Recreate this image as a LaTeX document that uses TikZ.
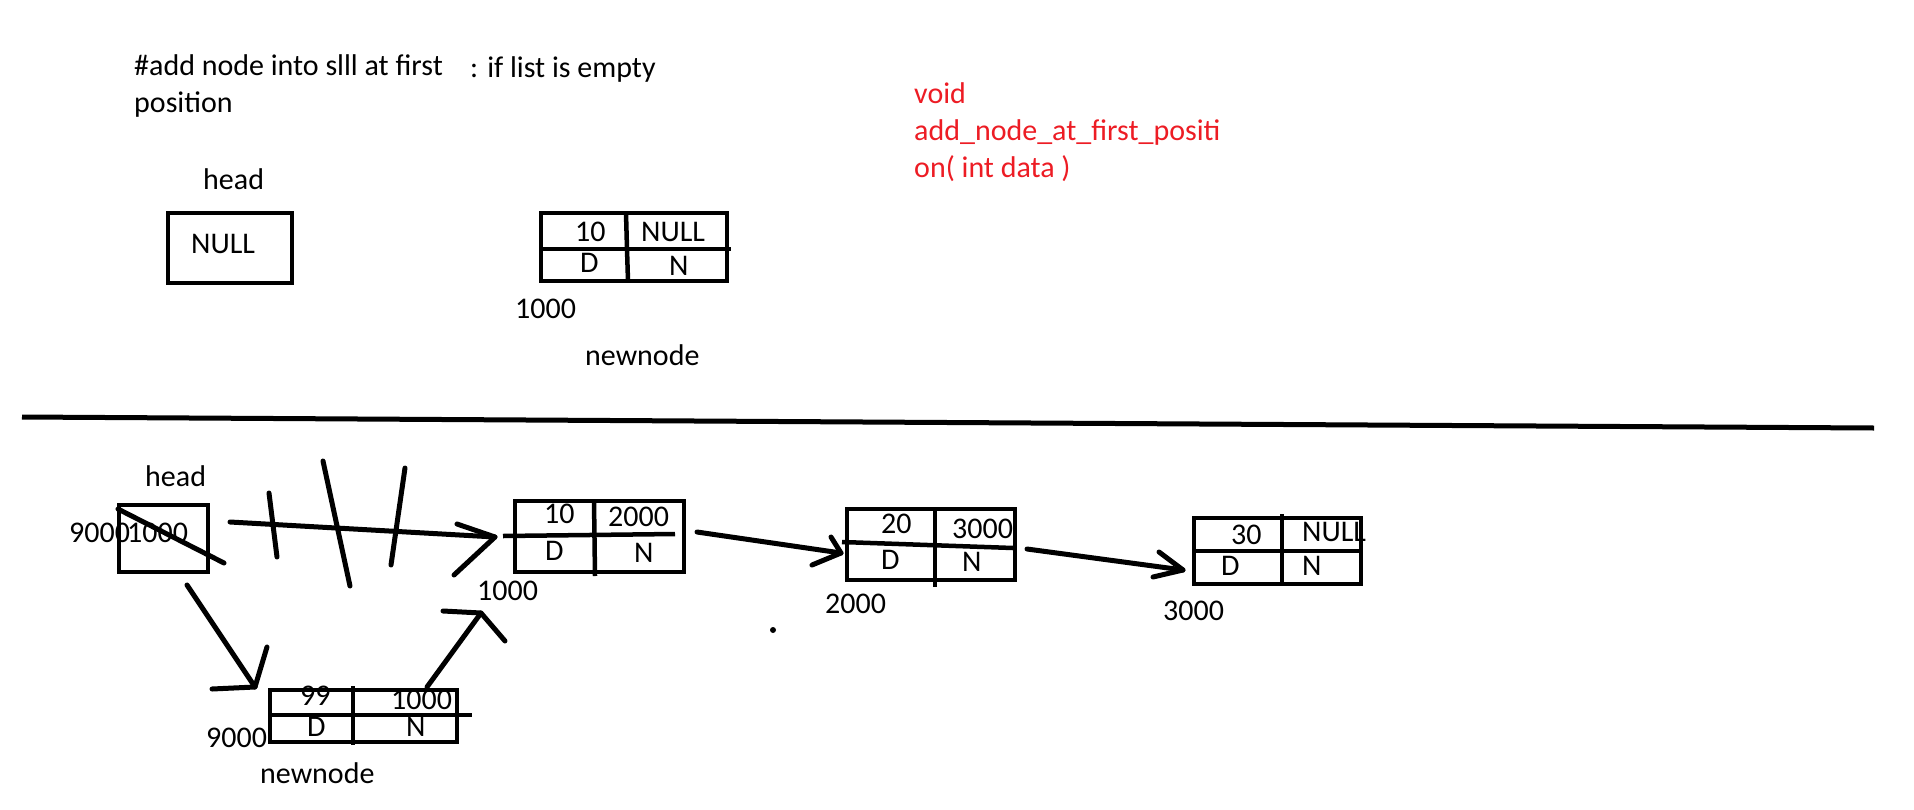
\documentclass[tikz,border=0pt]{standalone}
\usepackage{fontspec}
\setmainfont{Carlito}
\definecolor{paintred}{RGB}{237,28,36}
\begin{document}
\begin{tikzpicture}[x=1pt,y=-1pt,
  txt/.style={anchor=base west, inner sep=0pt, font=\fontsize{30}{36}\selectfont},
  redtxt/.style={txt, text=paintred},
  box/.style={line width=4.5pt},
  stroke/.style={line width=5pt, line cap=round, line join=round}]
\useasboundingbox (0,0) rectangle (1914,809);
\fill[white] (0,0) rectangle (1914,809);

% ---------- top part ----------
\node[txt] (t1) at (134,75) {\#add node into slll at first};
\node[txt] (t2) at (470,77) {: if list is empty};
\node[txt] (t3) at (134,112) {position};
\node[txt] (thead) at (203,189) {head};
\draw[box] (168,213) rectangle (292,283);
\node[txt] (tnull) at (191,253) {NULL};

\draw[box] (541,213) rectangle (727,281);
\draw[box] (541,249) -- (731,249);
\draw[box] (626,213) -- (627,249) -- (628,281);
\node[txt] (tn10) at (575,241) {10};
\node[txt] (tnN) at (641,241) {NULL};
\node[txt] (tnD) at (580,272) {D};
\node[txt] (tnNN) at (669,275) {N};
\node[txt] (tn1000) at (515,318) {1000};
\node[txt] (tnew) at (585,365) {newnode};

\node[redtxt] (r1) at (914,103) {void};
\node[redtxt] (r2) at (914,140) {add\_node\_at\_first\_positi};
\node[redtxt] (r3) at (914,177) {on( int data )};

% divider
\coordinate (dl) at (22,417);
\coordinate (dr) at (1874,428);
\draw[line width=5pt] (dl) -- (dr);

% ---------- bottom part ----------
\node[txt] (bhead) at (145,486) {head};
\node[txt] (b9000) at (69,542) {9000};
\node[txt] (b1000) at (127,542) {1000};
\draw[box] (119,505) rectangle (208,572);
\coordinate (s1) at (118,509); \coordinate (s2) at (224,563);
\draw[stroke] (s1) -- (s2);

% node 1000
\draw[box] (515,501) rectangle (684,572);
\draw[box] (503,536) -- (675,534);
\draw[box] (594,501) -- (595,576);
\node[txt] (a10) at (544,523) {10};
\node[txt] (a2000) at (608,526) {2000};
\node[txt] (aD) at (545,560) {D};
\node[txt] (aN) at (634,562) {N};
\node[txt] (aaddr) at (477,600) {1000};

% node 2000
\draw[box] (847,509) rectangle (1015,580);
\draw[box] (842,542) -- (1013,548);
\draw[box] (935,509) -- (935,587);
\node[txt] (b20) at (881,533) {20};
\node[txt] (b3000) at (952,538) {3000};
\node[txt] (bD) at (881,569) {D};
\node[txt] (bN) at (962,571) {N};
\node[txt] (baddr) at (825,613) {2000};

% node 3000
\draw[box] (1194,518) rectangle (1361,584);
\draw[box] (1194,551) -- (1361,551);
\draw[box] (1282,514) -- (1282,584);
\node[txt] (c30) at (1231,544) {30};
\node[txt] (cnull) at (1302,541) {NULL};
\node[txt] (cD) at (1221,575) {D};
\node[txt] (cN) at (1302,575) {N};
\node[txt] (caddr) at (1163,620) {3000};

% new node 9000
\draw[box] (270,690) rectangle (457,742);
\draw[box] (270,715) -- (472,715);
\draw[box] (353,686) -- (353,745);
\node[txt] (d99) at (300,705) {99};
\node[txt] (d1000) at (391,709) {1000};
\node[txt] (dD) at (307,736) {D};
\node[txt] (dN) at (406,736) {N};
\node[txt] (daddr) at (206,747) {9000};
\node[txt] (dnew) at (260,783) {newnode};

% arrows
\coordinate (h1s) at (230,522); \coordinate (h1t) at (495,537);
\coordinate (h1a) at (457,524); \coordinate (h1b) at (454,575);
\draw[stroke] (h1s) -- (h1t);
\draw[stroke] (h1a) -- (h1t) -- (h1b);

\coordinate (n1s) at (697,532); \coordinate (n1t) at (841,553);
\coordinate (n1a) at (831,537); \coordinate (n1b) at (812,565);
\draw[stroke] (n1s) -- (n1t);
\draw[stroke] (n1a) -- (n1t) -- (n1b);

\coordinate (n2s) at (1027,549); \coordinate (n2t) at (1183,570);
\coordinate (n2a) at (1159,552); \coordinate (n2b) at (1153,577);
\draw[stroke] (n2s) -- (n2t);
\draw[stroke] (n2a) -- (n2t) -- (n2b);

\coordinate (h2s) at (187,585); \coordinate (h2t) at (255,687);
\coordinate (h2a) at (267,647); \coordinate (h2b) at (212,689);
\draw[stroke] (h2s) -- (h2t);
\draw[stroke] (h2a) -- (h2t) -- (h2b);

\coordinate (ns) at (427,687); \coordinate (nt) at (481,613);
\coordinate (na) at (443,611); \coordinate (nb) at (505,641);
\draw[stroke] (ns) -- (nt);
\draw[stroke] (na) -- (nt) -- (nb);

% crossing-out strokes
\coordinate (x1a) at (269,493); \coordinate (x1b) at (277,557);
\coordinate (x2a) at (323,461); \coordinate (x2b) at (350,586);
\coordinate (x3a) at (405,468); \coordinate (x3b) at (391,565);
\draw[stroke] (x1a) -- (x1b);
\draw[stroke] (x2a) -- (x2b);
\draw[stroke] (x3a) -- (x3b);

% stray dot
\coordinate (dot) at (773,630);
\fill (dot) circle (3);
\end{tikzpicture}
\end{document}
